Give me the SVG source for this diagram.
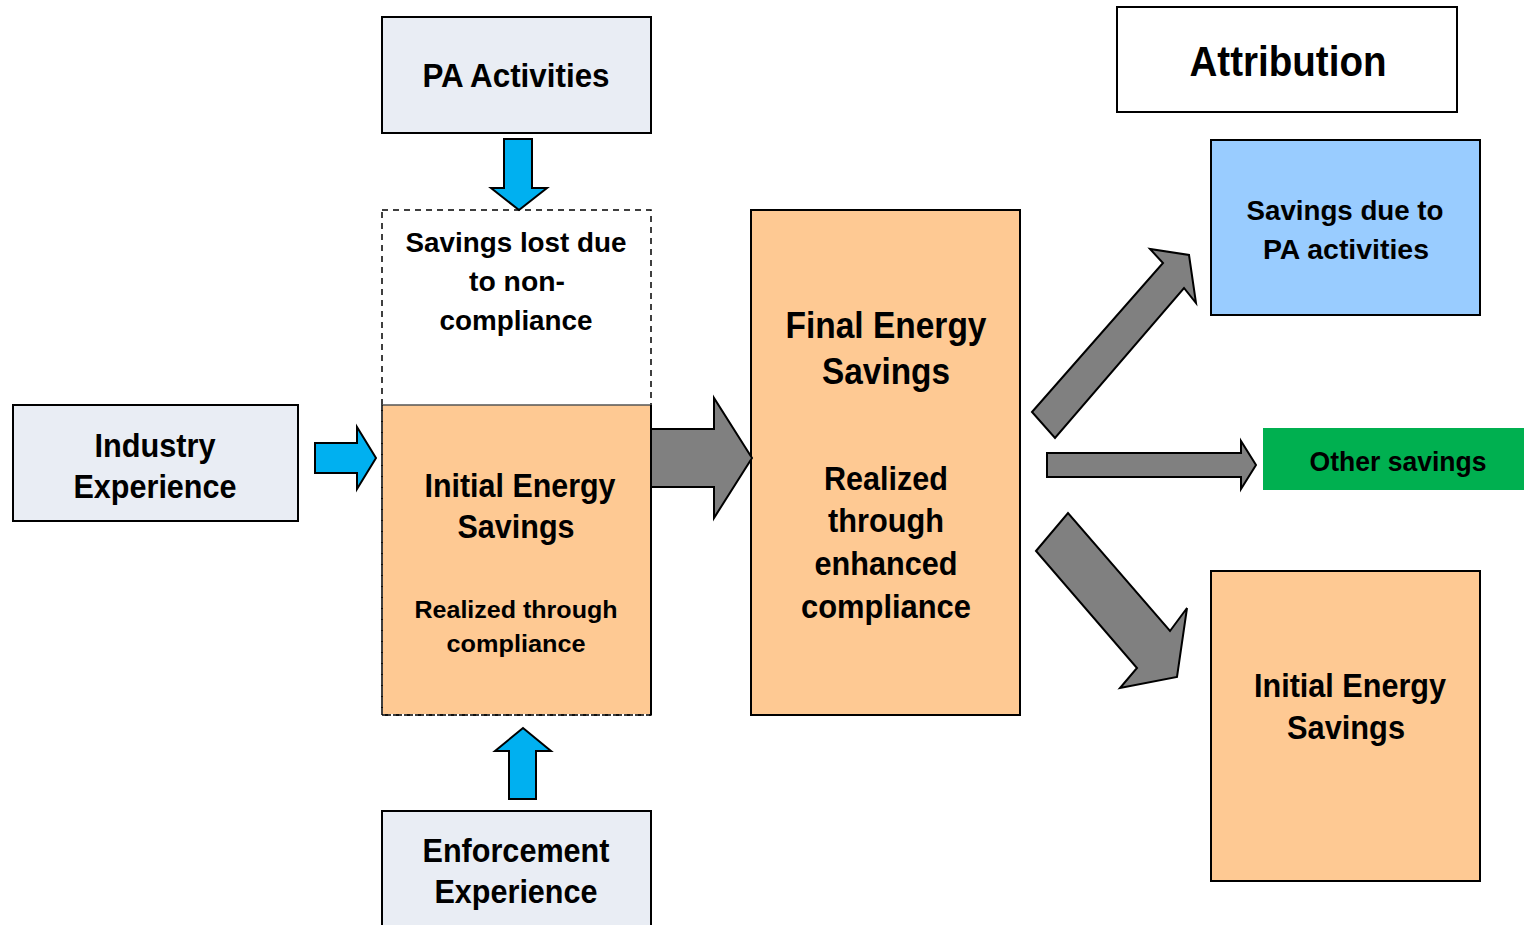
<svg xmlns="http://www.w3.org/2000/svg" width="1524" height="925" viewBox="0 0 1524 925">
<style>
.box{stroke:#000;stroke-width:2}
.gray{fill:#e9edf4}
.peach{fill:#fec993}
.t{font-family:"Liberation Sans",Arial,sans-serif;font-weight:bold;fill:#000;text-anchor:middle}
.barrow{fill:#00b0f0;stroke:#000;stroke-width:2;stroke-linejoin:miter}
.garrow{fill:#808080;stroke:#000;stroke-width:2;stroke-linejoin:miter}
</style>
<rect width="1524" height="925" fill="#fff"/>

<g id="pa-activities">
<rect class="box gray" x="382" y="17" width="269" height="116"/>
<text class="t" x="516" y="87" font-size="33" textLength="187" lengthAdjust="spacingAndGlyphs">PA Activities</text>
</g>

<g id="savings-lost">
<rect x="382" y="210" width="269" height="505" fill="none" stroke="#000" stroke-width="1.5" stroke-dasharray="6,5"/>
<text class="t" x="516" y="252" font-size="27" textLength="221" lengthAdjust="spacingAndGlyphs">Savings lost due</text>
<text class="t" x="517" y="291" font-size="27" textLength="96" lengthAdjust="spacingAndGlyphs">to non-</text>
<text class="t" x="516" y="330" font-size="27" textLength="153" lengthAdjust="spacingAndGlyphs">compliance</text>
</g>

<g id="initial-left">
<rect class="peach" x="383" y="405" width="267" height="309"/>
<line x1="382" y1="405" x2="651" y2="405" stroke="#555" stroke-width="1.5"/>
<line x1="651" y1="405" x2="651" y2="715" stroke="#000" stroke-width="2"/>
<line x1="382" y1="405" x2="382" y2="715" stroke="#000" stroke-width="1.5" stroke-dasharray="6,5"/>
<line x1="382" y1="715" x2="651" y2="715" stroke="#000" stroke-width="1.5" stroke-dasharray="6,5"/>
<text class="t" x="520" y="497" font-size="33" textLength="191" lengthAdjust="spacingAndGlyphs">Initial Energy</text>
<text class="t" x="516" y="538" font-size="33" textLength="117" lengthAdjust="spacingAndGlyphs">Savings</text>
<text class="t" x="516" y="618" font-size="24" textLength="203" lengthAdjust="spacingAndGlyphs">Realized through</text>
<text class="t" x="516" y="652" font-size="24" textLength="139" lengthAdjust="spacingAndGlyphs">compliance</text>
</g>

<g id="industry">
<rect class="box gray" x="13" y="405" width="285" height="116"/>
<text class="t" x="155" y="457" font-size="34" textLength="121" lengthAdjust="spacingAndGlyphs">Industry</text>
<text class="t" x="155" y="498" font-size="34" textLength="163" lengthAdjust="spacingAndGlyphs">Experience</text>
</g>

<g id="enforcement">
<rect class="box gray" x="382" y="811" width="269" height="120"/>
<text class="t" x="516" y="862" font-size="34" textLength="187" lengthAdjust="spacingAndGlyphs">Enforcement</text>
<text class="t" x="516" y="903" font-size="34" textLength="163" lengthAdjust="spacingAndGlyphs">Experience</text>
</g>

<g id="final">
<rect class="box peach" x="751" y="210" width="269" height="505"/>
<text class="t" x="886" y="338" font-size="36" textLength="201" lengthAdjust="spacingAndGlyphs">Final Energy</text>
<text class="t" x="886" y="384" font-size="36" textLength="128" lengthAdjust="spacingAndGlyphs">Savings</text>
<text class="t" x="886" y="490" font-size="33" textLength="124" lengthAdjust="spacingAndGlyphs">Realized</text>
<text class="t" x="886" y="532" font-size="33" textLength="116" lengthAdjust="spacingAndGlyphs">through</text>
<text class="t" x="886" y="575" font-size="33" textLength="143" lengthAdjust="spacingAndGlyphs">enhanced</text>
<text class="t" x="886" y="618" font-size="33" textLength="170" lengthAdjust="spacingAndGlyphs">compliance</text>
</g>

<g id="attribution">
<rect class="box" x="1117" y="7" width="340" height="105" fill="#fff"/>
<text class="t" x="1288" y="76" font-size="42" textLength="197" lengthAdjust="spacingAndGlyphs">Attribution</text>
</g>

<g id="savings-pa">
<rect class="box" x="1211" y="140" width="269" height="175" fill="#99ccff"/>
<text class="t" x="1345" y="220" font-size="28" textLength="197" lengthAdjust="spacingAndGlyphs">Savings due to</text>
<text class="t" x="1346" y="259" font-size="28" textLength="166" lengthAdjust="spacingAndGlyphs">PA activities</text>
</g>

<g id="other-savings">
<rect x="1263" y="428" width="261" height="62" fill="#00b050"/>
<text class="t" x="1398" y="471" font-size="27" textLength="177" lengthAdjust="spacingAndGlyphs">Other savings</text>
</g>

<g id="initial-right">
<rect class="box peach" x="1211" y="571" width="269" height="310"/>
<text class="t" x="1350" y="697" font-size="33" textLength="192" lengthAdjust="spacingAndGlyphs">Initial Energy</text>
<text class="t" x="1346" y="739" font-size="33" textLength="118" lengthAdjust="spacingAndGlyphs">Savings</text>
</g>

<g id="connectors">
<polygon class="barrow" points="315,443 357,443 357,427 376,458 357,489 357,473 315,473"/>
<polygon class="barrow" points="504,139 532,139 532,188 547,188 519,210 491,188 504,188"/>
<polygon class="barrow" points="509,799 509,751 495,751 523,728 551,751 536,751 536,799"/>
<polygon class="garrow" points="651,429 714,429 714,398 752,458 714,518 714,487 651,487"/>
<polygon class="garrow" points="1032,412 1163,263 1150,249 1189,255 1196,303 1184,288 1055,438"/>
<polygon class="garrow" points="1047,453 1241,453 1241,441 1256,465 1241,489 1241,477 1047,477"/>
<polygon class="garrow" points="1036,551 1068,513 1170,631 1187,608 1177,677 1120,688 1137,668"/>
</g>
</svg>
